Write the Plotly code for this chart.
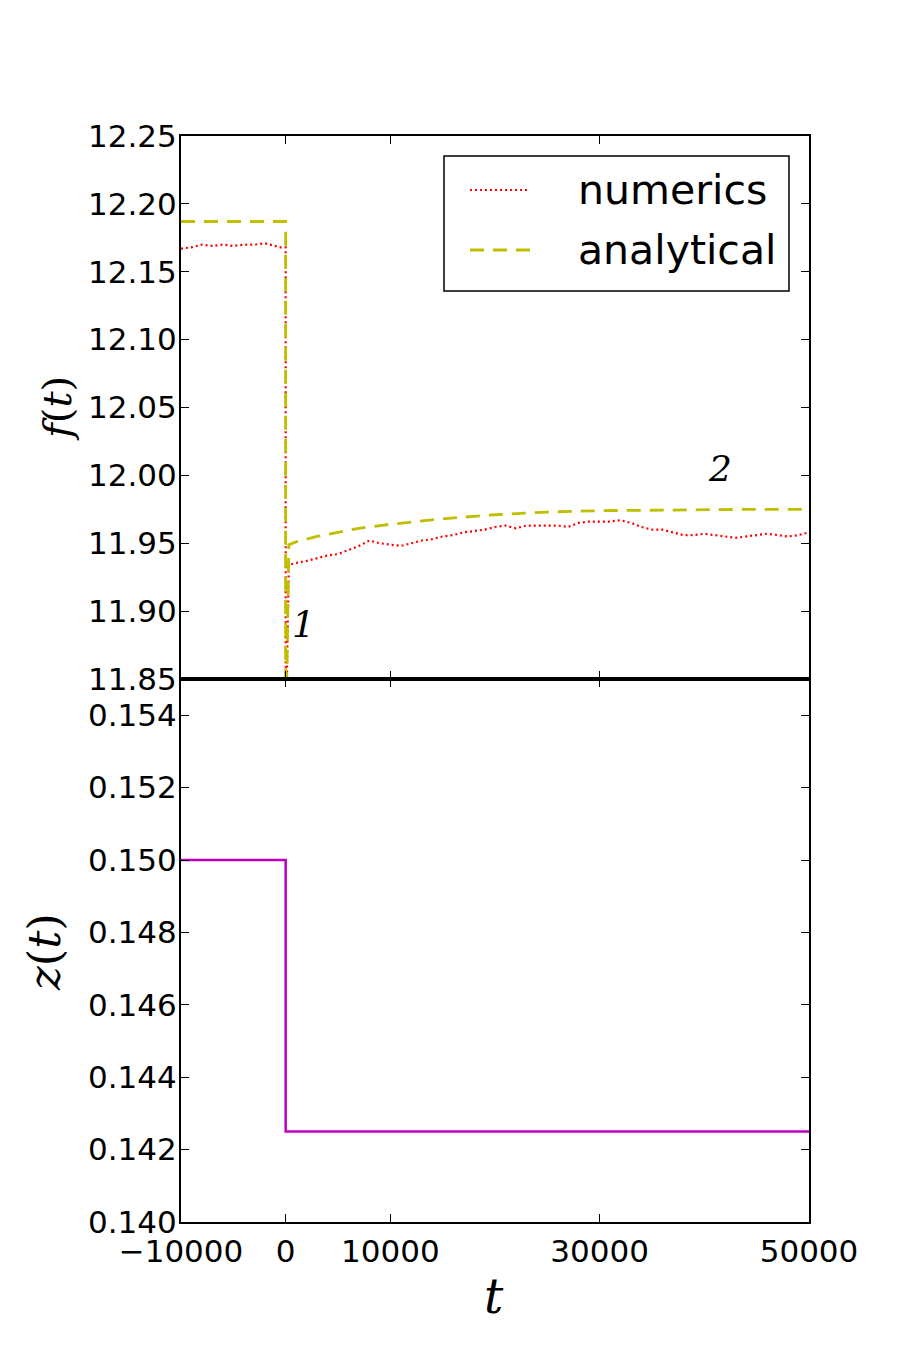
import plotly.graph_objects as go

# ---------------- data ----------------
# numerics f(t): times and values
num_t = [-10000, -9000, -8000, -7000, -6000, -5000, -4000, -3000, -2000, -1000, -500, 0, 0,
         300, 1000, 2000, 3000, 4000, 5000, 6000, 7000, 8000, 9000, 10000,
         11000, 12000, 13000, 14000, 15000, 16000, 17000, 18000, 19000, 20000,
         21000, 22000, 23000, 24000, 25000, 26000, 27000, 28000, 29000, 30000,
         31000, 32000, 33000, 34000, 35000, 36000, 37000, 38000, 39000, 40000,
         41000, 42000, 43000, 44000, 45000, 46000, 47000, 48000, 49000, 50000]
num_f = [12.167, 12.168, 12.170, 12.169, 12.170, 12.169, 12.170, 12.170, 12.171, 12.169, 12.168, 12.168, 11.80,
         11.934, 11.9355, 11.937, 11.939, 11.941, 11.942, 11.945, 11.948, 11.952, 11.950, 11.949,
         11.948, 11.950, 11.952, 11.953, 11.955, 11.956, 11.958, 11.959, 11.960, 11.962,
         11.963, 11.961, 11.963, 11.963, 11.963, 11.963, 11.962, 11.965, 11.966, 11.966,
         11.966, 11.967, 11.965, 11.962, 11.960, 11.960, 11.958, 11.956, 11.956, 11.957,
         11.956, 11.955, 11.954, 11.955, 11.956, 11.957, 11.956, 11.955, 11.956, 11.958]

# analytical f(t)
ana_t = [-10000, 0, 0, 300, 1000, 2000, 3000, 5000, 7000, 10000, 15000, 20000,
         25000, 30000, 35000, 40000, 45000, 50000]
ana_f = [12.187, 12.187, 11.80, 11.949, 11.951, 11.953, 11.955, 11.958, 11.961, 11.964, 11.968, 11.971,
         11.973, 11.974, 11.9745, 11.975, 11.975, 11.975]

# z(t)
z_t = [-10000, 0, 0, 50000]
z_v = [0.150, 0.150, 0.1425, 0.1425]

# ticks
x_ticks = [-10000, 0, 10000, 30000, 50000]
x_ticktext = ["\u221210000", "0", "10000", "30000", "50000"]
f_ticks = [11.85, 11.90, 11.95, 12.00, 12.05, 12.10, 12.15, 12.20, 12.25]
z_ticks = [0.140, 0.142, 0.144, 0.146, 0.148, 0.150, 0.152, 0.154]

series_names = ["numerics", "analytical"]
series_colors = ["#ff0000", "#bfbf00"]
series_dash = ["2px,3px", "14px,9px"]
series_width = [2.2, 2.8]

W, H = 900, 1360

# ---------------- figure ----------------
fig = go.Figure()
fig.add_trace(go.Scatter(x=num_t, y=num_f, mode="lines", name=series_names[0],
                         line=dict(color=series_colors[0], width=series_width[0], dash=series_dash[0]),
                         xaxis="x", yaxis="y"))
fig.add_trace(go.Scatter(x=ana_t, y=ana_f, mode="lines", name=series_names[1],
                         line=dict(color=series_colors[1], width=series_width[1], dash=series_dash[1]),
                         xaxis="x", yaxis="y"))
fig.add_trace(go.Scatter(x=z_t, y=z_v, mode="lines", name="z",
                         line=dict(color="#bf00bf", width=2.5),
                         xaxis="x2", yaxis="y2"))

tickfont = dict(family="DejaVu Sans", size=31, color="black")
axcommon = dict(showline=True, linecolor="black", linewidth=2, mirror="allticks",
                ticks="inside", ticklen=8, tickwidth=1, tickcolor="black",
                showgrid=False, zeroline=False, automargin=False, tickfont=tickfont)

xdom = [181 / W, 809 / W]
fig.update_layout(
    width=W, height=H,
    margin=dict(l=0, r=0, t=0, b=0),
    paper_bgcolor="white", plot_bgcolor="white",
    xaxis=dict(domain=xdom, range=[-10000, 50000], tickvals=x_ticks, showticklabels=False,
               anchor="y", **axcommon),
    yaxis=dict(domain=[1 - 679 / H, 1 - 136 / H], range=[11.85, 12.25], tickvals=f_ticks,
               ticktext=[f"{v:.2f}" for v in f_ticks], anchor="x", ticklabelstandoff=-4, **axcommon),
    xaxis2=dict(domain=xdom, range=[-10000, 50000], tickvals=x_ticks, ticktext=x_ticktext,
                anchor="y2", ticklabelstandoff=1, **axcommon),
    yaxis2=dict(domain=[1 - 1222 / H, 1 - 679 / H], range=[0.140, 0.155], tickvals=z_ticks,
                ticktext=[f"{v:.3f}" for v in z_ticks], anchor="x2", ticklabelstandoff=-4, **axcommon),
    showlegend=False,
)

# legend (box, samples, labels)
fig.add_shape(type="rect", xref="paper", yref="paper",
              x0=444 / W, x1=789 / W, y0=1 - 291 / H, y1=1 - 156 / H,
              line=dict(color="black", width=1.5), fillcolor="white", layer="above")
legend_rows = [190, 250]
for i, name in enumerate(series_names):
    yy = 1 - legend_rows[i] / H
    fig.add_shape(type="line", xref="paper", yref="paper",
                  x0=470 / W, x1=530 / W, y0=yy, y1=yy, layer="above",
                  line=dict(color=series_colors[i], width=series_width[i], dash=series_dash[i]))
    fig.add_annotation(text=name, xref="paper", yref="paper", x=576 / W, y=yy,
                       xanchor="left", yanchor="middle", showarrow=False,
                       font=dict(family="DejaVu Sans", size=41, color="black"))

serif = "DejaVu Serif"
fig.add_annotation(text="<i>f</i>(<i>t</i>)", xref="paper", yref="paper",
                   x=57 / W, y=1 - 409 / H, xanchor="center", yanchor="middle",
                   showarrow=False, textangle=-90,
                   font=dict(family=serif, size=40, color="black"))
fig.add_annotation(text="<i>z</i>(<i>t</i>)", xref="paper", yref="paper",
                   x=45 / W, y=1 - 952 / H, xanchor="center", yanchor="middle",
                   showarrow=False, textangle=-90,
                   font=dict(family=serif, size=45, color="black"))
fig.add_annotation(text="<i>t</i>", xref="paper", yref="paper",
                   x=494 / W, y=1 - 1296 / H, xanchor="center", yanchor="middle", showarrow=False,
                   font=dict(family=serif, size=48, color="black"))
fig.add_annotation(text="<i>1</i>", xref="x", yref="y", x=1750, y=11.89, showarrow=False,
                   xanchor="center", yanchor="middle",
                   font=dict(family=serif, size=36, color="black"))
fig.add_annotation(text="<i>2</i>", xref="x", yref="y", x=41500, y=12.005, showarrow=False,
                   xanchor="center", yanchor="middle",
                   font=dict(family=serif, size=36, color="black"))

fig.write_html("out.html")
